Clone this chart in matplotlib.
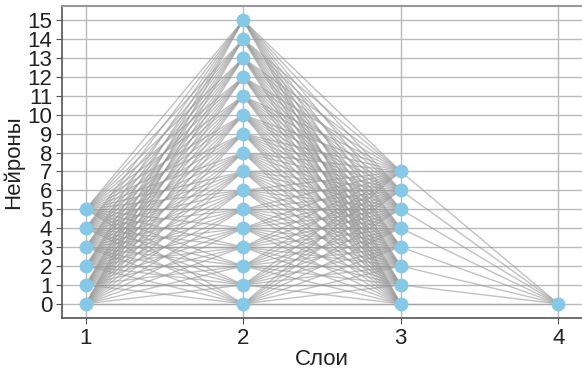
import matplotlib
matplotlib.use("Agg")
import matplotlib.pyplot as plt

# --- datos: neuronas por capa ---
capas = [1, 2, 3, 4]
neuronas_por_capa = [6, 16, 8, 1]

plt.rcParams['font.family'] = ['Liberation Sans', 'DejaVu Sans']

fig = plt.figure(figsize=(5.82, 3.70), dpi=100)
ax = fig.add_axes([62 / 582, 52 / 370, 520 / 582, 312 / 370])

# conexiones entre capas adyacentes
for i in range(len(capas) - 1):
    for a in range(neuronas_por_capa[i]):
        for b in range(neuronas_por_capa[i + 1]):
            ax.plot([capas[i], capas[i + 1]], [a, b], color='#999999',
                    lw=1.0, alpha=0.6, zorder=2)

# neuronas
for capa, n in zip(capas, neuronas_por_capa):
    ax.plot([capa] * n, list(range(n)), 'o', color='#85c9e6', ms=10,
            mec='none', zorder=3)

ax.set_xlim(0.85, 4.15)
ax.set_ylim(-0.75, 15.75)
ax.set_xticks(capas)
ax.set_yticks(range(max(neuronas_por_capa)))
ax.grid(True, color='#bbbbbb', lw=1.0, zorder=0)
ax.set_axisbelow(True)

ax.spines['right'].set_visible(False)
ax.spines['top'].set_color('#999999')
ax.spines['top'].set_linewidth(1.5)
ax.spines['left'].set_color('#555555')
ax.spines['bottom'].set_color('#555555')
ax.spines['left'].set_linewidth(1.2)
ax.spines['bottom'].set_linewidth(1.2)

ax.tick_params(labelsize=16, length=4, pad=3, color='#555555', labelcolor='#222222')
ax.set_xlabel("Слои", fontsize=16, color='#222222', labelpad=0)
ax.set_ylabel("Нейроны", fontsize=16, color='#222222', labelpad=2)

fig.savefig("out.png", dpi=100)
